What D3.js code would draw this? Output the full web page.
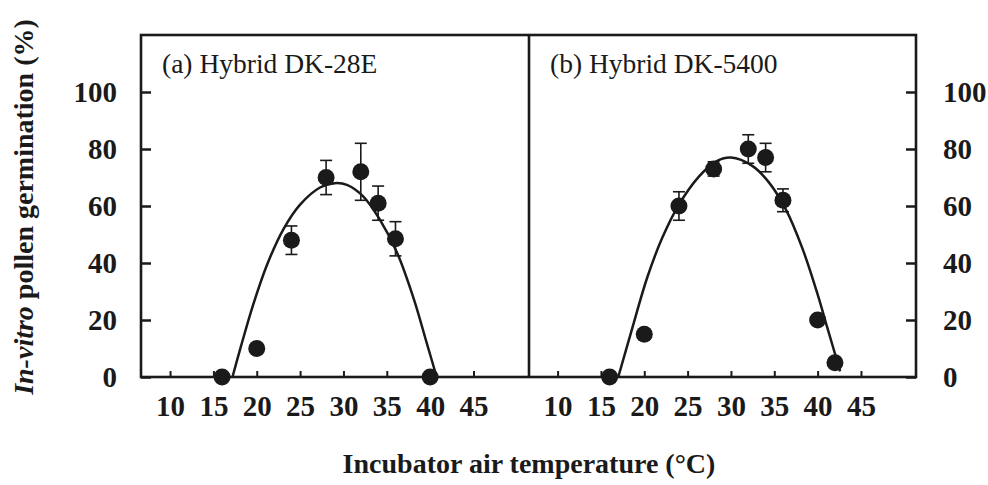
<!DOCTYPE html>
<html>
<head>
<meta charset="utf-8">
<script src="https://cdn.jsdelivr.net/npm/d3@7"></script>
<style>
  html, body { margin: 0; padding: 0; background: #fff; }
  svg { display: block; }
  text { font-family: "Liberation Serif", "Times New Roman", serif; fill: #1a1a1a; }
</style>
</head>
<body>
<svg id="chart" width="988" height="485"></svg>
<script>
// Incubator temperature (°C)
const tempA = [16, 20, 24, 28, 32, 34, 36, 40];
const germA = [0, 10, 48, 70, 72, 61, 48.5, 0];
const errA  = [0, 0, 5, 6, 10, 6, 6, 0];

const tempB = [16, 20, 24, 28, 32, 34, 36, 40, 42];
const germB = [0, 15, 60, 73, 80, 77, 62, 20, 5];
const errB  = [0, 0, 5, 2.5, 5, 5, 4, 0, 0];

// Fitted response curves (temperature, germination %)
const fitA = [[17.2, 0], [18.2, 11], [19.6, 25.5], [21.2, 39.5], [23.1, 52], [25, 60.5],
              [27.3, 66.5], [29, 68], [30.4, 67.4], [32.3, 63.3], [34.2, 55.2],
              [36.2, 43.5], [38.1, 27.5], [39.6, 12], [40.75, 0]];
const fitB = [[17, 0], [18.6, 17], [20.35, 35], [22.1, 49], [24, 60.5], [26.3, 70.3],
              [28.2, 75.5], [30, 77], [32.5, 74], [34.4, 68.2], [36.3, 59],
              [38.2, 45.5], [40, 29], [41.1, 17.5], [42.6, 2]];

const xTicks = [10, 15, 20, 25, 30, 35, 40, 45];
const yTicks = [0, 20, 40, 60, 80, 100];

const panels = [
  { title: "(a) Hybrid DK-28E", x: tempA, y: germA, e: errA, fit: fitA,
    left: 141, right: 529, domain: [6.65, 51.4], axisSide: "left" },
  { title: "(b) Hybrid DK-5400", x: tempB, y: germB, e: errB, fit: fitB,
    left: 529, right: 916, domain: [6.7, 51.35], axisSide: "right" }
];

const svg = d3.select("#chart");
const plotTop = 35, plotBottom = 377;
const y = d3.scaleLinear().domain([0, 120]).range([plotBottom, plotTop]);
const ink = "#1a1a1a";

function styleTickText(sel) {
  sel.selectAll("text").attr("font-size", 29).attr("font-weight", "bold")
    .attr("font-family", "Liberation Serif, serif").attr("fill", ink);
}

panels.forEach(p => {
  const x = d3.scaleLinear().domain(p.domain).range([p.left, p.right]);
  const g = svg.append("g");

  // x axis: short inward ticks, labels below
  const xa = g.append("g").attr("transform", `translate(0,${plotBottom})`)
    .call(d3.axisBottom(x).tickValues(xTicks).tickSizeInner(-6).tickSizeOuter(0).tickPadding(18));
  xa.select(".domain").remove();
  xa.selectAll("line").attr("stroke", ink).attr("stroke-width", 2);
  styleTickText(xa);

  // y axis: inward ticks on the outer edge
  const ya = g.append("g");
  if (p.axisSide === "left") {
    ya.attr("transform", `translate(${p.left},0)`)
      .call(d3.axisLeft(y).tickValues(yTicks).tickSizeInner(-10).tickSizeOuter(0).tickPadding(24));
  } else {
    ya.attr("transform", `translate(${p.right},0)`)
      .call(d3.axisRight(y).tickValues(yTicks).tickSizeInner(-10).tickSizeOuter(0).tickPadding(27));
  }
  ya.select(".domain").remove();
  ya.selectAll("line").attr("stroke", ink).attr("stroke-width", 2.5);
  styleTickText(ya);

  // fitted curve
  g.append("path")
    .datum(p.fit)
    .attr("d", d3.line().x(d => x(d[0])).y(d => y(d[1])).curve(d3.curveCatmullRom))
    .attr("fill", "none").attr("stroke", ink).attr("stroke-width", 2.5);

  // error bars
  const eb = p.x.map((t, i) => ({ t, v: p.y[i], e: p.e[i] })).filter(d => d.e > 0);
  const ebg = g.append("g").attr("stroke", ink).attr("stroke-width", 1.6);
  ebg.selectAll("line.v").data(eb).join("line").attr("class", "v")
    .attr("x1", d => x(d.t)).attr("x2", d => x(d.t))
    .attr("y1", d => y(d.v + d.e)).attr("y2", d => y(d.v - d.e));
  ebg.selectAll("line.top").data(eb).join("line").attr("class", "top")
    .attr("x1", d => x(d.t) - 6).attr("x2", d => x(d.t) + 6)
    .attr("y1", d => y(d.v + d.e)).attr("y2", d => y(d.v + d.e));
  ebg.selectAll("line.bot").data(eb).join("line").attr("class", "bot")
    .attr("x1", d => x(d.t) - 6).attr("x2", d => x(d.t) + 6)
    .attr("y1", d => y(d.v - d.e)).attr("y2", d => y(d.v - d.e));

  // observed means
  g.selectAll("circle").data(p.x.map((t, i) => [t, p.y[i]])).join("circle")
    .attr("cx", d => x(d[0])).attr("cy", d => y(d[1])).attr("r", 8.5).attr("fill", ink);

  // panel title
  g.append("text").attr("x", p.left + 21).attr("y", 73)
    .attr("font-size", 27.5).text(p.title);
});

// panel frame and divider
svg.append("rect").attr("x", 141).attr("y", plotTop).attr("width", 916 - 141).attr("height", plotBottom - plotTop)
  .attr("fill", "none").attr("stroke", ink).attr("stroke-width", 2.6);
svg.append("line").attr("x1", 529).attr("x2", 529).attr("y1", plotTop).attr("y2", plotBottom)
  .attr("stroke", ink).attr("stroke-width", 2.6);

// axis titles
const yt = svg.append("text")
  .attr("transform", "translate(33,207) rotate(-90)")
  .attr("text-anchor", "middle").attr("font-size", 28).attr("font-weight", "bold");
yt.append("tspan").attr("font-style", "italic").text("In-vitro");
yt.append("tspan").text(" pollen germination (%)");

svg.append("text").attr("x", 529).attr("y", 473).attr("text-anchor", "middle")
  .attr("font-size", 28).attr("font-weight", "bold")
  .text("Incubator air temperature (°C)");
</script>
</body>
</html>
